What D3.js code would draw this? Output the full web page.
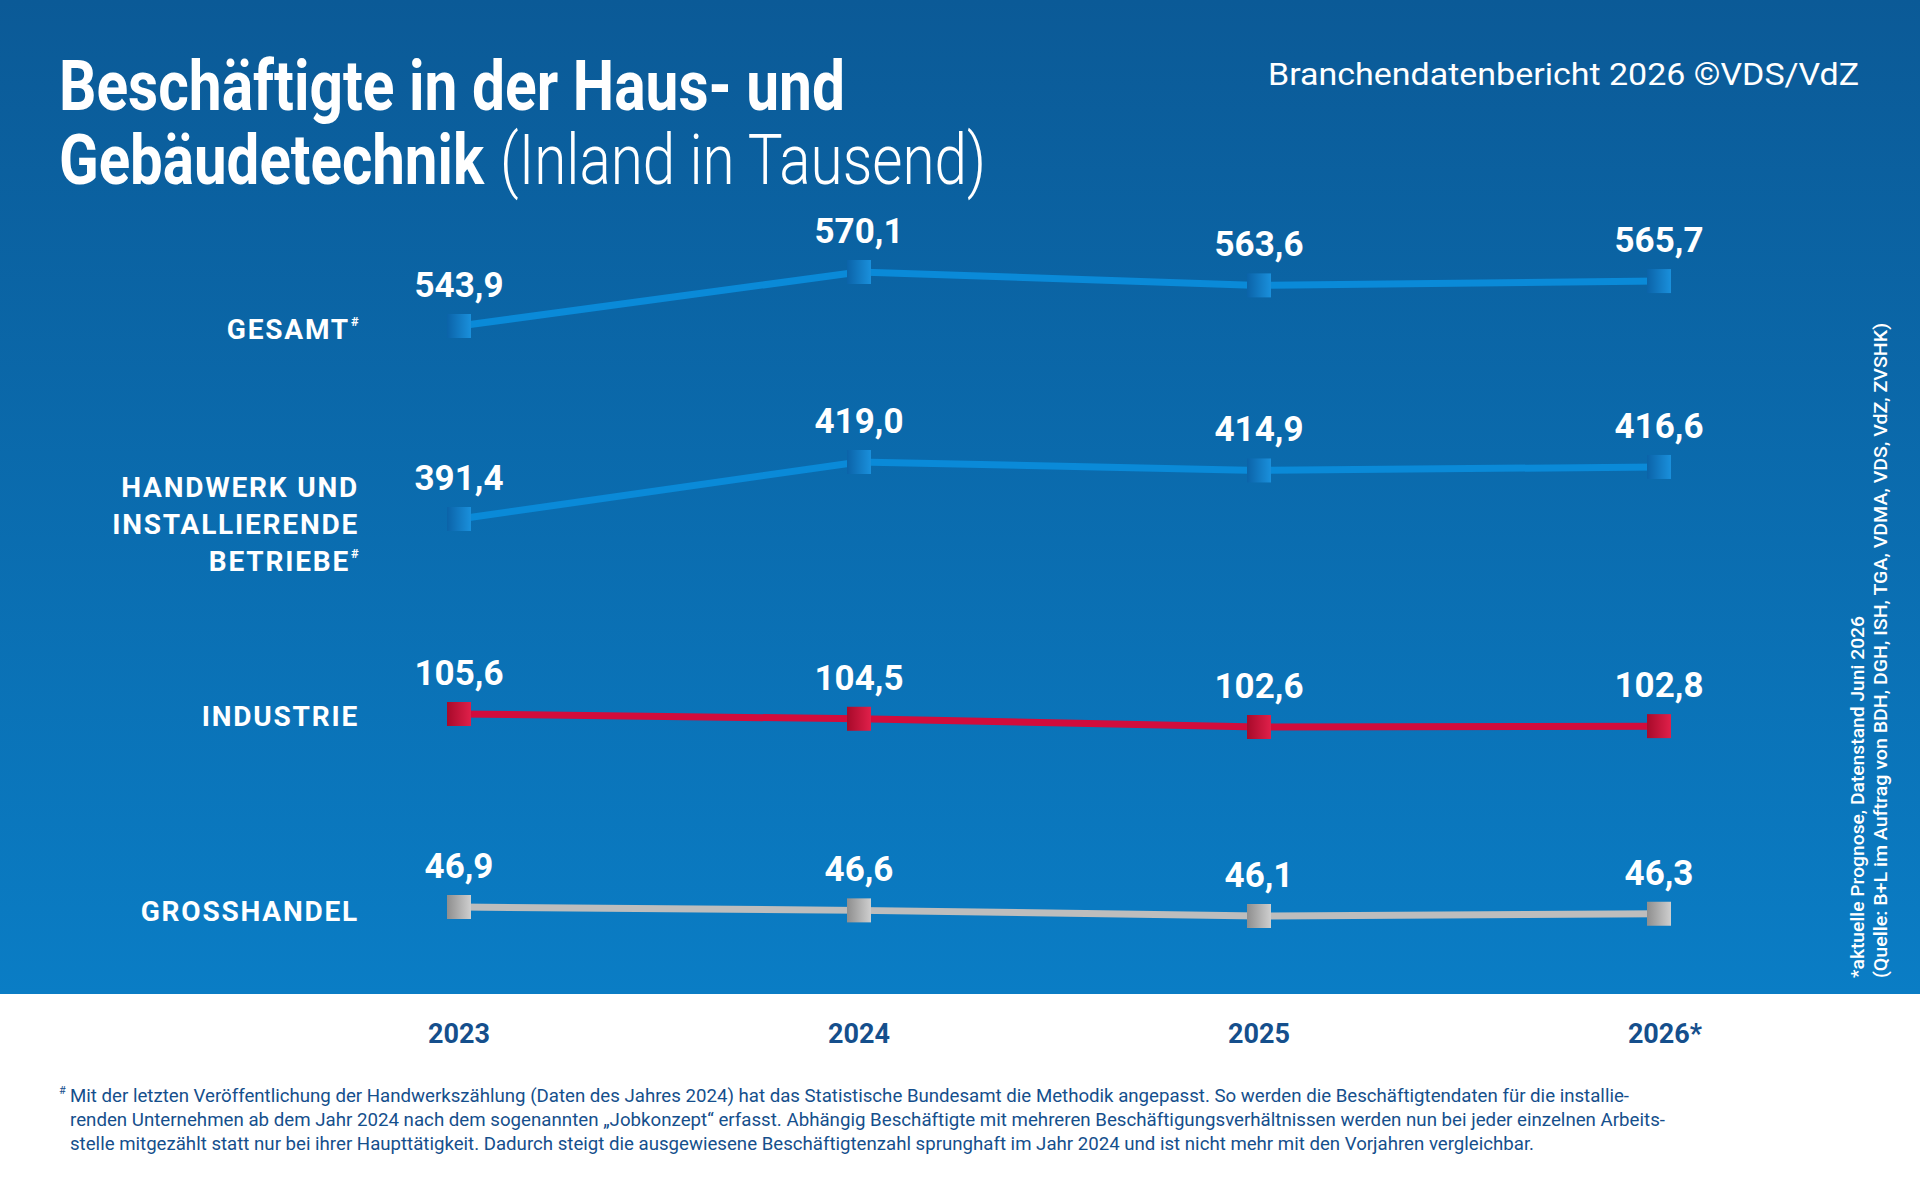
<!DOCTYPE html>
<html><head><meta charset="utf-8">
<script src="https://cdn.jsdelivr.net/npm/d3@7"></script>
<style>body{margin:0;background:#fff}text{font-family:Roboto,sans-serif}</style>
</head><body>
<script>
const years = ['2023', '2024', '2025', '2026*']
const gesamt = [543.9, 570.1, 563.6, 565.7]
const handwerk = [391.4, 419.0, 414.9, 416.6]
const industrie = [105.6, 104.5, 102.6, 102.8]
const grosshandel = [46.9, 46.6, 46.1, 46.3]

const W = 1920, H = 1180
const svg = d3.select('body').append('svg').attr('width', W).attr('height', H)
const defs = svg.append('defs')
const bg = defs.append('linearGradient').attr('id', 'bg').attr('x1', 0).attr('y1', 0).attr('x2', 0).attr('y2', 1)
bg.append('stop').attr('offset', 0).attr('stop-color', '#0b5a97')
bg.append('stop').attr('offset', 1).attr('stop-color', '#0a7dc5')
function markerGrad(id, a, b) {
  const g = defs.append('linearGradient').attr('id', id).attr('x1', 0).attr('y1', 0).attr('x2', 1).attr('y2', 0)
  g.append('stop').attr('offset', 0).attr('stop-color', a)
  g.append('stop').attr('offset', 1).attr('stop-color', b)
}
markerGrad('mBlue', '#0b63a8', '#1a90dc')
markerGrad('mRed', '#a80a2a', '#e0204a')
markerGrad('mGray', '#8e8e8e', '#cfcfcf')

svg.append('rect').attr('width', W).attr('height', 994).attr('fill', 'url(#bg)')

// x positions
const x = d3.scalePoint().domain(years).range([459, 1659])

// per-series vertical scales (each row stands on its own)
const series = [
  {name: 'gesamt', values: gesamt, y: d3.scaleLinear().domain([543.9, 570.1]).range([326, 272]), color: '#0a8ad8', m: 'mBlue'},
  {name: 'handwerk', values: handwerk, y: d3.scaleLinear().domain([391.4, 419.0]).range([519, 462]), color: '#0a8ad8', m: 'mBlue'},
  {name: 'industrie', values: industrie, y: d3.scaleLinear().domain([102.6, 105.6]).range([727, 714]), color: '#d20c3c', m: 'mRed'},
  {name: 'grosshandel', values: grosshandel, y: d3.scaleLinear().domain([46.1, 46.9]).range([916, 907]), color: '#bdbdbd', m: 'mGray'}
]
const fmt = v => d3.format('.1f')(v).replace('.', ',')

series.forEach(s => {
  const pts = s.values.map((v, i) => [x(years[i]), s.y(v)])
  svg.append('path').attr('d', d3.line()(pts)).attr('fill', 'none')
    .attr('stroke', s.color).attr('stroke-width', 7)
  const g = svg.append('g')
  g.selectAll('rect').data(pts).join('rect')
    .attr('x', d => d[0] - 12).attr('y', d => d[1] - 12)
    .attr('width', 24).attr('height', 24).attr('fill', `url(#${s.m})`)
  g.selectAll('text').data(s.values).join('text')
    .attr('x', (d, i) => x(years[i])).attr('y', (d, i) => s.y(d) - 29)
    .attr('text-anchor', 'middle').attr('fill', '#fff')
    .attr('font-size', 35).attr('font-weight', 700).text(fmt)
})

// row labels
const rowLabels = [
  {lines: ['GESAMT'], y: [339], sup: true},
  {lines: ['HANDWERK UND', 'INSTALLIERENDE', 'BETRIEBE'], y: [497, 534, 571], sup: true},
  {lines: ['INDUSTRIE'], y: [726], sup: false},
  {lines: ['GROSSHANDEL'], y: [921], sup: false}
]
rowLabels.forEach(r => {
  r.lines.forEach((l, i) => {
    const last = i === r.lines.length - 1
    svg.append('text').attr('x', last && r.sup ? 350 : 359).attr('y', r.y[i])
      .attr('text-anchor', 'end').attr('fill', '#fff').attr('font-size', 28).attr('font-weight', 700)
      .attr('letter-spacing', 1.8).text(l)
    if (last && r.sup) svg.append('text').attr('x', 351).attr('y', r.y[i] - 13)
      .attr('fill', '#fff').attr('font-size', 13).attr('font-weight', 700).text('#')
  })
})

// year labels
svg.append('g').selectAll('text').data(years).join('text')
  .attr('x', d => x(d) + (d.length > 4 ? 6 : 0)).attr('y', 1043).attr('text-anchor', 'middle')
  .attr('fill', '#154f8c').attr('font-size', 27).attr('font-weight', 700).text(d => d)

// title
svg.append('text').attr('x', 59).attr('y', 110).attr('fill', '#fff').attr('font-size', 70)
  .attr('font-weight', 700).attr('textLength', 786).attr('lengthAdjust', 'spacingAndGlyphs')
  .text('Beschäftigte in der Haus- und')
svg.append('text').attr('x', 59).attr('y', 184).attr('fill', '#fff').attr('font-size', 70)
  .attr('font-weight', 700).attr('textLength', 425).attr('lengthAdjust', 'spacingAndGlyphs')
  .text('Gebäudetechnik')
svg.append('text').attr('x', 500).attr('y', 184).attr('fill', '#fff').attr('font-size', 70)
  .attr('font-weight', 300).attr('textLength', 486).attr('lengthAdjust', 'spacingAndGlyphs')
  .text('(Inland in Tausend)')

svg.append('text').attr('x', 1859).attr('y', 85).attr('text-anchor', 'end').attr('fill', '#fff')
  .attr('font-size', 32).attr('textLength', 591).attr('lengthAdjust', 'spacingAndGlyphs')
  .text('Branchendatenbericht 2026 ©VDS/VdZ')

// rotated source note
const side = ['*aktuelle Prognose, Datenstand Juni 2026',
  '(Quelle: B+L im Auftrag von BDH, DGH, ISH, TGA, VDMA, VDS, VdZ, ZVSHK)']
side.forEach((s, i) => {
  svg.append('text').attr('transform', `translate(${1864 + i * 23},978) rotate(-90)`)
    .attr('fill', '#fff').attr('font-size', 18).attr('font-weight', 500)
    .attr('textLength', i ? 655 : 362).attr('lengthAdjust', 'spacingAndGlyphs').text(s)
})

// footnote
const foot = [
  'Mit der letzten Veröffentlichung der Handwerkszählung (Daten des Jahres 2024) hat das Statistische Bundesamt die Methodik angepasst. So werden die Beschäftigtendaten für die installie-',
  'renden Unternehmen ab dem Jahr 2024 nach dem sogenannten „Jobkonzept“ erfasst. Abhängig Beschäftigte mit mehreren Beschäftigungsverhältnissen werden nun bei jeder einzelnen Arbeits-',
  'stelle mitgezählt statt nur bei ihrer Haupttätigkeit. Dadurch steigt die ausgewiesene Beschäftigtenzahl sprunghaft im Jahr 2024 und ist nicht mehr mit den Vorjahren vergleichbar.'
]
const footLen = [1559, 1595, 1464]
svg.append('text').attr('x', 59).attr('y', 1094).attr('fill', '#154f8c').attr('font-size', 11).text('#')
foot.forEach((l, i) => {
  svg.append('text').attr('x', 70).attr('y', 1102 + i * 24).attr('fill', '#154f8c')
    .attr('font-size', 18).attr('textLength', footLen[i]).attr('lengthAdjust', 'spacingAndGlyphs').text(l)
})
</script>
</body></html>
